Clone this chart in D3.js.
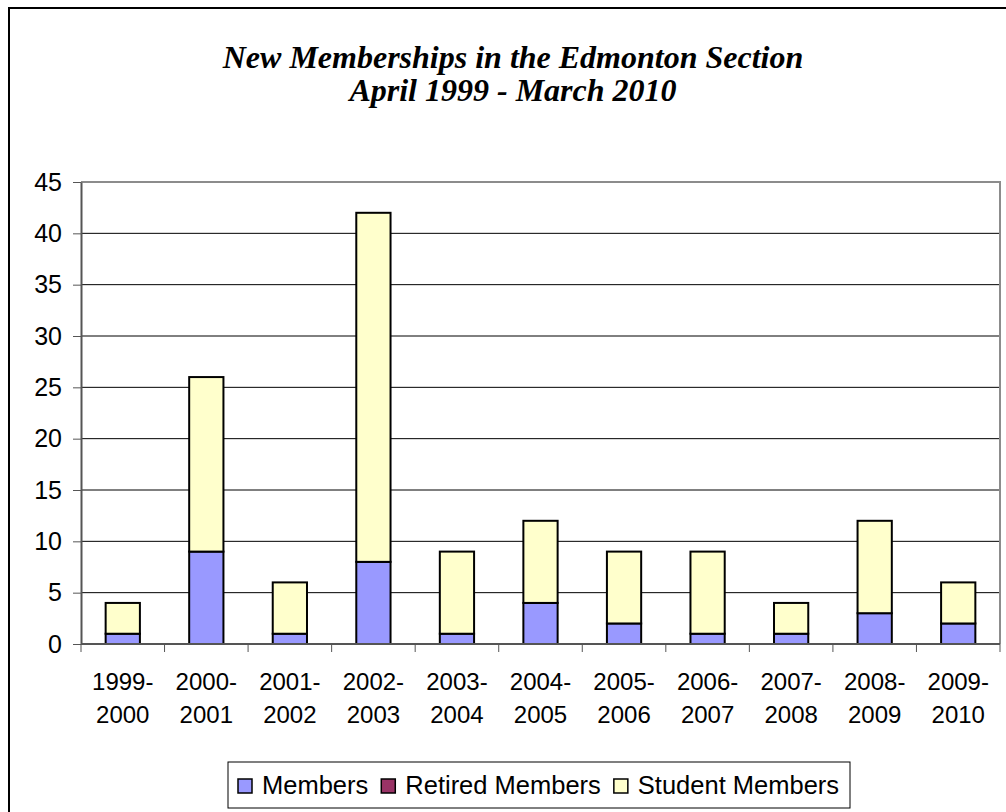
<!DOCTYPE html>
<html>
<head>
<meta charset="utf-8">
<script src="https://cdn.jsdelivr.net/npm/d3@7/dist/d3.min.js"></script>
<style>
  body { margin: 0; background: #fff; }
  svg { display: block; }
</style>
</head>
<body>
<div id="chart"></div>
<script>
// data
const periods = ["1999-2000", "2000-2001", "2001-2002", "2002-2003", "2003-2004", "2004-2005",
                 "2005-2006", "2006-2007", "2007-2008", "2008-2009", "2009-2010"];
const members        = [1, 9, 1, 8, 1, 4, 2, 1, 1, 3, 2];
const retiredMembers = [0, 0, 0, 0, 0, 0, 0, 0, 0, 0, 0];
const studentMembers = [3, 17, 5, 34, 8, 8, 7, 8, 3, 9, 4];
const seriesNames  = ["Members", "Retired Members", "Student Members"];
const seriesColors = ["#9999FF", "#993366", "#FFFFCC"];
const yTicks = [0, 5, 10, 15, 20, 25, 30, 35, 40, 45];

const width = 1006, height = 812;
const plot = { left: 81, right: 1000, top: 182, bottom: 644 };

const svg = d3.select("#chart").append("svg")
    .attr("width", width)
    .attr("height", height);

// outer chart frame (runs off the right/bottom edge)
svg.append("rect")
    .attr("x", 9).attr("y", 8)
    .attr("width", 1010).attr("height", 820)
    .attr("fill", "#fff")
    .attr("stroke", "#000")
    .attr("stroke-width", 2);

// title
const title = svg.append("text")
    .attr("text-anchor", "middle")
    .style("font-family", "'Liberation Serif', 'Times New Roman', serif")
    .style("font-style", "italic")
    .style("font-weight", "bold")
    .style("font-size", "32px")
    .attr("fill", "#000");
title.append("tspan").attr("x", 513).attr("y", 68).text("New Memberships in the Edmonton Section");
title.append("tspan").attr("x", 513).attr("y", 101).text("April 1999 - March 2010");

const x = d3.scaleBand()
    .domain(periods)
    .range([plot.left, plot.right])
    .padding(0);

const y = d3.scaleLinear()
    .domain([0, 45])
    .range([plot.bottom, plot.top]);

// gridlines
svg.append("g")
    .selectAll("line")
    .data(yTicks.filter(d => d > 0 && d < 45))
    .join("line")
    .attr("x1", plot.left).attr("x2", plot.right)
    .attr("y1", d => y(d)).attr("y2", d => y(d))
    .attr("stroke", "#000")
    .attr("stroke-width", 1);

// plot border top + right (gray)
svg.append("path")
    .attr("d", `M${plot.left},${plot.top}H${plot.right}V${plot.bottom}`)
    .attr("fill", "none")
    .attr("stroke", "#8c8c8c")
    .attr("stroke-width", 2);

// stacked bars
const rows = periods.map((p, i) => ({
    period: p,
    "Members": members[i],
    "Retired Members": retiredMembers[i],
    "Student Members": studentMembers[i]
}));
const stacked = d3.stack().keys(seriesNames)(rows);
const barW = x.bandwidth() * 0.41;

svg.append("g")
    .selectAll("g")
    .data(stacked)
    .join("g")
    .attr("fill", (d, i) => seriesColors[i])
    .selectAll("rect")
    .data(d => d.filter(s => s[1] - s[0] > 0))
    .join("rect")
    .attr("x", d => x(d.data.period) + (x.bandwidth() - barW) / 2)
    .attr("y", d => y(d[1]))
    .attr("width", barW)
    .attr("height", d => y(d[0]) - y(d[1]))
    .attr("stroke", "#000")
    .attr("stroke-width", 2);

// y axis
const yAxis = svg.append("g")
    .attr("transform", `translate(${plot.left},0)`)
    .call(d3.axisLeft(y).tickValues(yTicks).tickSize(8).tickSizeOuter(0).tickPadding(11));
yAxis.select(".domain").attr("stroke", "#555").attr("stroke-width", 2);
yAxis.selectAll(".tick line").attr("stroke", "#555");
yAxis.selectAll("text")
    .style("font-family", "'Liberation Sans', Arial, sans-serif")
    .style("font-size", "25px")
    .attr("fill", "#000");

// x axis
svg.append("line")
    .attr("x1", plot.left).attr("x2", plot.right)
    .attr("y1", plot.bottom).attr("y2", plot.bottom)
    .attr("stroke", "#555").attr("stroke-width", 2);
svg.append("g")
    .selectAll("line")
    .data(periods.map(p => x(p)).concat([plot.right]))
    .join("line")
    .attr("x1", d => d).attr("x2", d => d)
    .attr("y1", plot.bottom).attr("y2", plot.bottom + 8)
    .attr("stroke", "#555")
    .attr("stroke-width", 1);

const xLabels = svg.append("g")
    .selectAll("text")
    .data(periods)
    .join("text")
    .attr("text-anchor", "middle")
    .style("font-family", "'Liberation Sans', Arial, sans-serif")
    .style("font-size", "24px")
    .attr("fill", "#000");
xLabels.append("tspan")
    .attr("x", d => x(d) + x.bandwidth() / 2)
    .attr("y", 690)
    .text(d => d.split("-")[0] + "-");
xLabels.append("tspan")
    .attr("x", d => x(d) + x.bandwidth() / 2)
    .attr("y", 723)
    .text(d => d.split("-")[1]);

// legend
const legend = svg.append("g");
legend.append("rect")
    .attr("x", 228).attr("y", 762)
    .attr("width", 622).attr("height", 46)
    .attr("fill", "#fff")
    .attr("stroke", "#000")
    .attr("stroke-width", 1);

let lx = 238;
seriesNames.forEach((name, i) => {
    legend.append("rect")
        .attr("x", lx).attr("y", 779)
        .attr("width", 14).attr("height", 14)
        .attr("fill", seriesColors[i])
        .attr("stroke", "#000")
        .attr("stroke-width", 1.5);
    const t = legend.append("text")
        .attr("x", lx + 24).attr("y", 794)
        .style("font-family", "'Liberation Sans', Arial, sans-serif")
        .style("font-size", "25.5px")
        .attr("fill", "#000")
        .text(name);
    lx += 24 + t.node().getComputedTextLength() + 13;
});
</script>
</body>
</html>
